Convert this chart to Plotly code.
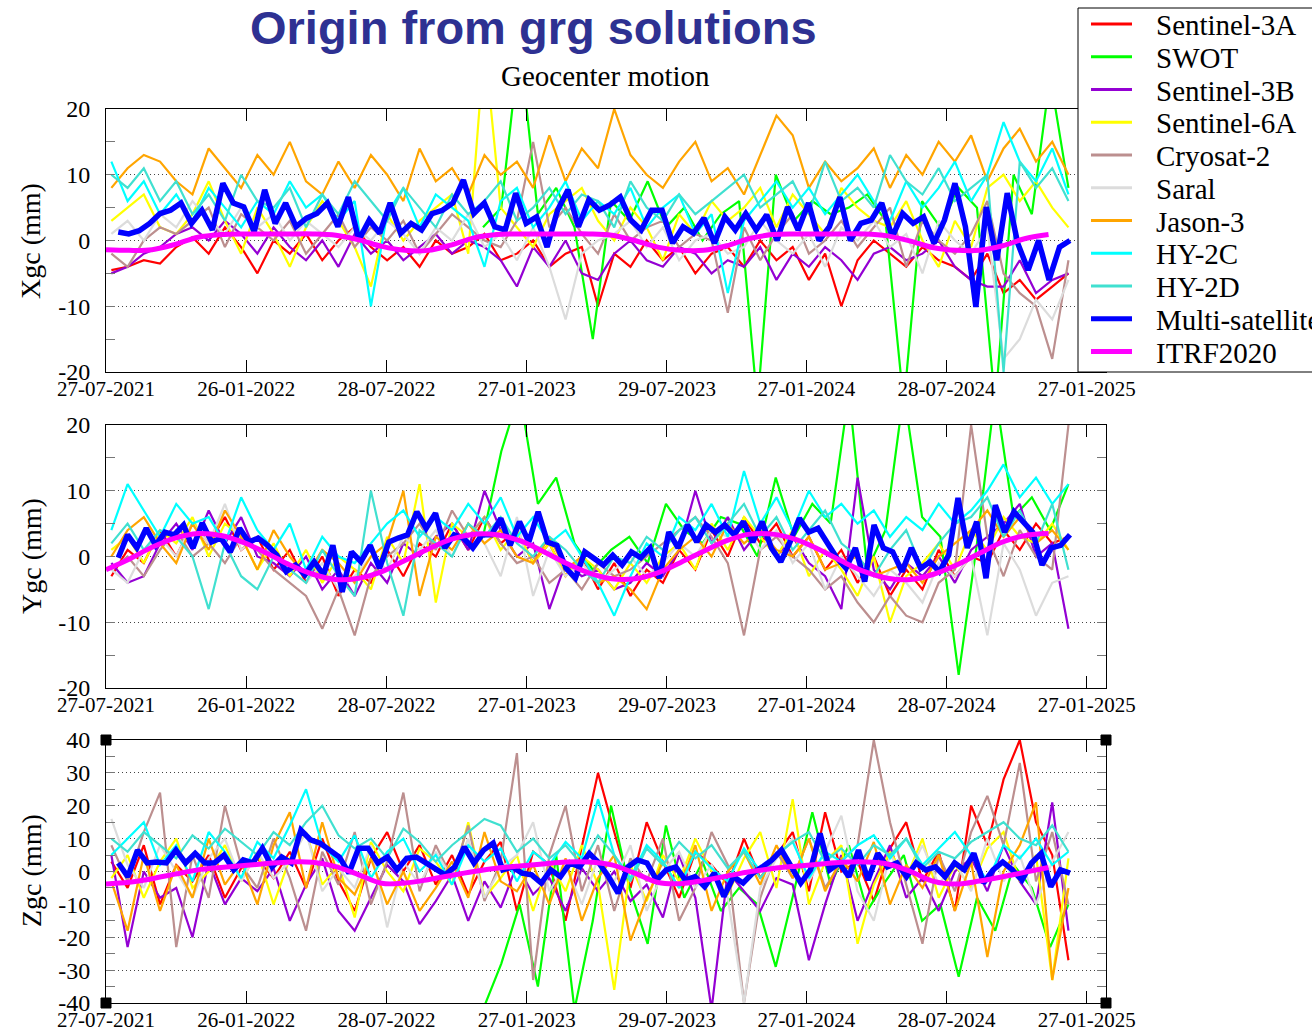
import pandas as pd
import plotly.graph_objects as go

W, H = 1312, 1032


def px_x(x):
    return x / W


def px_y(y):
    return 1 - y / H


# ---------------- data ----------------
series_names = ["Sentinel-3A", "SWOT", "Sentinel-3B", "Sentinel-6A", "Cryosat-2",
                "Saral", "Jason-3", "HY-2C", "HY-2D"]
series_colors = ["#ff0000", "#00ff00", "#9400d3", "#ffff00", "#bc8f8f",
                 "#dcdcdc", "#ffa500", "#00ffff", "#40e0d0"]
multi_name, multi_color = "Multi-satellite", "#0000ff"
itrf_name, itrf_color = "ITRF2020", "#ff00ff"

sat_start, sat_end = "2021-08-03", "2025-01-03"
swot_start = "2022-12-01"
multi_start, multi_end = "2021-08-12", "2025-01-05"
itrf_start = "2021-07-27"

tick_dates = ["2021-07-27", "2022-01-26", "2022-07-28", "2023-01-27",
              "2023-07-29", "2024-01-27", "2024-07-28", "2025-01-27"]
tick_labels = ["27-07-2021", "26-01-2022", "28-07-2022", "27-01-2023",
               "29-07-2023", "27-01-2024", "28-07-2024", "27-01-2025"]
x_range = ["2021-07-27", "2025-02-21"]

# ---- Xgc (mm)
s3a_x = [-4.5,-4,-3,-3.5,-1,0.5,-2,2,-1,-5, 0,-2,1,-3,0,2,-1,-3,-1,-4, 0,-2,-1,1,-3,-2,0,-4,-2,-1,
         -10,-2,-4,0,-3,-1,-5,-2,-1,-4, 0,-3,-1,-6,-2,-10,-3,0,-2,-4, -1,-3,-4,-6,-2,-8,-6,-9,-7,-5]
swot_x = [2,5,30,4,8,2,-15,6,3,9, 2,5,0,4,6,-25,10,3,6,4, 5,7,3,-25,6,2,8,5,-25,10, 4,25,8]
s3b_x = [-5,-4,-2,-1,1,2,0,3,1,-2, 2,-1,-3,0,-4,1,-2,0,-3,-1, 1,-2,0,-1,-3,-7,-1,-4,0,-5,
         -6,-2,0,-3,-4,-1,-2,-5,-3,-4, -1,-6,-2,-4,-1,-3,-6,-2,-1,-3, -2,0,-4,-6,-7,-7,-3,-8,-6,-5]
s6a_x = [3,5,7,2,1,4,9,3,-2,5, 1,-4,2,6,3,-1,-7,4,0,3, 5,7,-2,30,5,2,-1,4,6,8,
         3,0,5,2,-3,4,1,6,3,5, 8,2,7,4,1,8,5,3,2,6, 0,-4,3,-1,8,10,6,9,5,2]
cs2_x = [-2,-4,0,2,1,3,5,-1,4,2, 0,3,-2,1,4,-1,2,0,3,-2, 1,4,2,0,-1,3,15,2,5,1,
         -2,4,0,2,3,-1,1,0,-11,2, -3,1,4,-2,0,3,-1,2,5,-4, 3,0,-2,1,6,-5,-8,-10,-18,-3]
saral_x = [1,3,0,4,2,6,3,1,5,2, 4,0,3,1,-1,2,0,3,1,-2, 2,0,4,-1,1,-3,2,-4,-12,-2,
           0,1,3,-1,2,-3,0,1,-2,-1, 3,0,-2,1,-4,2,0,3,-1,1, -5,3,0,-2,2,-18,-15,-9,-12,-6]
j3_x = [8,11,13,12,9,7,14,11,8,13, 10,15,9,7,12,8,13,10,6,14, 9,11,7,13,10,12,8,16,9,14,
        11,20,13,10,8,12,15,9,11,7, 13,19,16,8,12,9,11,14,8,13, 10,15,12,16,9,14,17,12,15,10]
hy2c_x = [12,6,9,4,7,3,8,5,2,6, 4,9,5,7,3,6,-10,4,8,2, 7,5,3,-4,6,8,2,5,9,3,
          6,4,8,2,5,7,1,4,-8,3, 6,9,5,8,4,7,10,6,3,9, 5,8,12,6,10,18,12,9,14,7]
hy2d_x = [10,8,11,6,9,4,7,3,10,6, 5,8,2,7,4,9,6,3,8,5, 2,7,4,6,9,3,5,8,4,7,
          6,2,9,5,3,7,4,6,8,10, 5,7,9,4,12,6,8,5,13,9, 7,11,6,8,10,-20,12,8,11,6]
multi_x = [1.3,1.0,1.5,2.6,4.1,4.6,5.7,2.6,4.6,1.6,8.7,5.7,5.1,1.3,7.7,2.6,5.7,2.1,3.4,4.1,
           5.7,2.1,6.6,0.1,3.1,1.1,5.7,1.1,2.6,
           1.6,4.1,4.6,5.7,9.2,4.1,5.7,2.1,1.6,7.2,2.6,3.6,-1.0,4.6,7.7,2.1,6.2,4.6,5.4,6.6,
           3.1,1.6,4.6,4.6,-0.4,2.1,1.1,3.4,-0.4,3.6,
           1.6,4.1,1.6,3.9,0.0,5.1,1.6,5.7,0.0,2.1,6.6,0.0,2.6,3.1,5.7,0.5,4.1,2.6,3.6,-0.4,
           3.1,8.7,2.1,-10.1,5.1,-3.0,7.2,-0.4,-4.5,0.0,-6.0,-1.0,0.0]
itrf_x = [-1.4,-1.5,-1.4,-0.6,0.5,0.9,1.0,1.0,1.0,1.0,0.8,0.1,
          -0.9,-1.5,-1.5,-0.7,0.4,0.9,1.0,1.0,1.0,1.0,0.8,0.0,
          -1.0,-1.5,-1.5,-0.8,0.3,0.9,1.0,1.0,1.0,1.0,0.7,-0.1,
          -1.1,-1.5,-1.5,-0.8,0.3,0.9]

# ---- Ygc (mm)
s3a_y = [-3,1,-1,4,0,5,2,6,1,3, -2,1,-4,0,-6,-2,-4,1,-3,2, 0,5,1,6,2,4,-1,2,-3,0,
         -5,-1,-6,-2,-4,1,-2,4,0,6, 2,5,0,3,-2,1,-4,0,-6,-2, -5,1,-3,0,-1,4,1,5,2,3]
swot_y = [3,16,25,8,12,2,-2,1,3,-1, 8,4,2,6,5,0,12,3,8,5, 25,-2,4,25,6,3,-18,2,25,6, 9,4,11]
s3b_y = [-1,-4,-3,2,5,1,7,2,6,0, -1,-3,0,-5,-2,-6,-1,-4,2,0, 3,5,1,10,4,0,2,-8,-1,-3,
         -2,-5,-4,-1,-3,1,10,2,6,1, 4,0,3,-1,-3,-8,12,-2,-5,-1, -3,0,-4,1,3,5,8,0,2,-11]
s6a_y = [1,3,-1,4,2,6,0,5,3,-2, 2,-3,1,-4,0,-2,-5,3,-1,11, -7,5,3,6,1,4,-1,2,-3,0,
         -2,-5,-1,-4,0,2,-2,5,1,6, 3,0,4,-3,1,-2,-6,0,-10,-3, -1,2,-2,4,1,6,3,2,5,1]
cs2_y = [-2,0,-3,1,4,0,2,-1,3,1, -2,-4,-6,-11,-5,-12,-3,0,2,5, 1,7,3,6,2,-1,0,-4,-2,-5,
         -1,-3,-2,0,2,4,6,3,-1,-12, 1,3,0,-2,-5,-3,-7,-10,-6,-9, -10,-4,-2,20,3,-3,4,0,-2,20]
saral_y = [-2,-4,1,3,0,5,2,8,1,3, 0,-2,-4,-1,-5,-3,0,-2,3,1, 4,0,5,2,-3,6,-6,1,-3,-1,
           -4,-2,0,-3,-1,2,0,4,3,5, 1,4,-1,2,-5,0,-3,-6,-2,-4, -7,-1,-3,0,-12,2,-2,-9,-4,-3]
j3_y = [0,4,6,2,-1,5,1,7,3,-2, 4,0,-3,1,-1,-4,0,2,10,-6, 3,1,5,2,4,0,-1,3,-2,0,
        -4,-3,-5,-8,-2,1,3,0,5,2, 4,1,0,3,-2,-1,0,-3,-2,-1, -4,0,2,4,7,3,6,2,4,1]
hy2c_y = [4,11,7,3,8,5,6,2,9,4, 1,5,-2,3,0,-1,2,5,7,3, 6,4,8,5,9,3,6,2,4,0,
          -4,-9,-3,2,0,6,4,8,3,13, 5,9,4,10,6,8,5,7,3,6, 4,8,5,7,10,14,9,12,8,11]
hy2d_y = [2,5,1,4,3,0,-8,2,-3,-5, 0,-2,-4,1,-3,-6,10,-1,-9,4, 2,0,5,3,6,2,0,3,1,-2,
          -4,0,-1,3,1,4,6,2,5,8, 3,6,1,4,7,2,0,-3,1,4, -2,2,5,6,9,3,7,2,8,-2]
multi_y = [-0.2,3.3,1.3,4.3,1.7,3.7,3.3,4.8,1.3,5.1,2.2,2.8,0.7,4.3,2.2,2.8,1.7,0.2,-2.3,-1.3,
           -2.8,-0.8,-2.8,1.7,-5.4,0.7,-0.8,1.7,-1.8,2.2,2.8,3.3,6.8,
           4.3,6.6,1.3,3.3,2.8,1.3,3.3,3.3,5.8,1.7,5.3,2.2,6.8,2.2,1.7,-1.8,-3.3,0.7,-0.2,-1.3,
           0.2,-1.3,0.7,-0.2,1.3,-3.3,3.7,1.3,4.8,2.2,4.8,3.7,4.8,3.3,5.3,2.2,
           5.3,1.3,-0.8,2.2,5.8,3.7,4.3,2.2,-0.2,-1.8,1.3,-3.8,4.8,1.3,0.7,-2.3,1.3,-1.8,-0.8,
           -2.3,0.2,8.9,1.3,5.3,-3.3,7.8,3.7,6.8,5.3,3.7,-1.3,1.3,1.7,3.3]
itrf_y = [-2.0,-0.4,1.4,2.8,3.5,3.2,2.1,0.5,-1.3,-2.7,-3.5,-3.3,
          -2.3,-0.6,1.1,2.6,3.4,3.3,2.4,0.8,-1.0,-2.5,-3.4,-3.4,
          -2.5,-0.9,0.8,2.4,3.4,3.4,2.6,1.1,-0.7,-2.3,-3.3,-3.5,
          -2.7,-1.3,0.5,2.2,3.2,3.5]

# ---- Zgc (mm)
s3a_z = [3,-5,8,-10,2,-3,5,-8,1,4, -2,6,-5,10,-3,-12,4,12,0,8, -4,5,-7,3,9,-12,6,2,-15,8,
         30,12,-5,15,3,-8,6,2,-4,10, -2,5,12,-6,18,0,3,-9,7,15, -3,6,-12,20,8,28,40,15,5,-27]
swot_z = [-42,-28,-10,-35,5,-42,-15,20,-5,-22, 14,-8,3,-12,-5,-10,-29,-6,18,-4,
          8,-12,-3,5,-15,-10,-32,-8,-18,2, -5,-23,-10]
s3b_z = [5,-23,0,-8,-5,-20,3,-10,-2,-6, 1,-15,-4,4,-12,-18,-8,2,-3,-16, -9,-1,-15,-3,-11,2,-7,-2,-12,1,
         -6,0,-9,-4,-14,5,-8,-42,0,-6, -12,-2,-4,-27,-10,5,-15,-3,8,-8, -2,-12,0,4,-6,8,-3,-10,21,-18]
s6a_z = [-2,5,-8,3,10,-5,0,8,-3,6, -10,4,12,-4,2,-14,9,0,-6,7, 3,-4,15,-8,-2,5,-12,3,-6,8,
         -4,-36,2,-9,5,-3,10,0,-7,4, 12,-5,22,-10,3,8,-22,-4,6,-2, 10,-8,2,-5,7,12,-3,5,-33,4]
cs2_z = [8,-3,12,24,-23,5,-8,20,2,-5, 10,-2,-18,6,-4,12,-10,3,24,-6, 8,-2,14,-9,3,36,-33,5,20,-6,
         8,-12,4,-3,10,-15,-5,12,2,-40, -8,6,-2,10,-5,3,8,40,15,-4, -22,5,-6,12,23,8,33,-3,12,-10]
saral_z = [16,2,-5,8,0,-8,4,10,-3,6, -2,3,12,-6,1,-5,8,-17,3,-4, 6,-2,10,-8,1,5,15,-6,2,-10,
           4,-3,8,-12,0,6,-5,2,-8,-40, -5,4,10,-3,6,17,-6,-15,5,-2, 8,-4,3,-6,10,-3,5,-10,3,12]
j3_z = [-3,-18,5,-12,2,-8,10,-4,3,-10, 8,18,-5,15,-2,-7,4,-10,0,-12, -5,3,-8,12,-3,-6,2,-10,4,-15,
        -2,5,-21,-8,3,-5,8,-12,0,6, -4,8,-2,10,-6,4,-3,9,-10,2, -5,5,-12,3,-26,0,8,21,-33,-5]
hy2c_z = [5,10,15,2,8,-3,12,6,-2,9, 4,14,25,8,3,11,-2,6,10,0, 5,-4,8,3,7,-3,6,2,9,4,
          22,5,-2,8,3,-5,6,1,-3,7, 0,5,9,-2,6,3,8,11,4,10, 2,7,12,5,-3,8,4,10,2,6]
hy2d_z = [10,6,12,8,4,11,7,13,9,5, 12,8,15,20,11,7,10,4,13,9, 3,8,12,16,14,6,10,4,8,2,
          11,5,-3,7,2,9,4,8,1,6, -2,5,9,12,3,7,2,8,5,10, 1,6,4,9,12,15,10,8,14,6]
multi_z = [2.6,-1.6,6.5,2.6,2.9,2.6,6.5,2.6,5.5,2.6,2.6,5.0,0.5,3.5,2.6,7.1,1.4,4.4,2.6,12.6,
           9.6,8.6,6.5,4.4,-0.5,7.1,7.1,2.6,4.4,0.5,4.0,4.4,2.6,
           1.0,-1.0,1.4,7.5,2.6,6.5,8.6,0.5,1.4,-0.5,-1.0,-3.5,0.5,-1.6,2.6,1.4,5.5,2.6,-1.6,
           -6.6,1.4,3.5,2.6,-2.6,0.5,1.4,-2.6,-1.6,-4.6,-0.5,-7.6,-1.6,-3.5,-0.5,
           1.4,3.5,6.5,1.4,-3.5,0.5,11.6,0.5,2.6,-1.6,6.5,-2.6,5.5,1.4,2.6,-1.6,2.6,0.5,1.4,
           -1.6,2.6,0.5,5.5,-3.5,0.5,2.9,0.5,-2.6,2.6,5.5,-4.6,0.5,-0.5]
itrf_z = [-3.8,-3.3,-2.2,-0.8,0.5,1.2,1.8,2.4,2.9,2.8,1.5,-1.0,
          -3.6,-3.5,-2.5,-1.2,0.0,1.0,1.7,2.3,2.9,2.9,2.0,-0.5,
          -3.3,-3.7,-2.7,-1.4,-0.1,0.9,1.6,2.2,2.8,2.9,2.3,0.0,
          -3.0,-3.8,-2.9,-1.6,-0.2,1.2]

panel_titles = ["Xgc (mm)", "Ygc (mm)", "Zgc (mm)"]
panel_ranges = [[-20, 20], [-20, 20], [-40, 40]]
panel_ticks = [[-20, -10, 0, 10, 20], [-20, -10, 0, 10, 20],
               [-40, -30, -20, -10, 0, 10, 20, 30, 40]]
panel_tick_text = [["-20", "-10", "0", "10", "20"], ["-20", "-10", "0", "10", "20"],
                   ["-40", "-30", "-20", "-10", "0", "10", "20", "30", "40"]]

# ---------------- figure ----------------
SERIF = "Liberation Serif, Times New Roman, serif"
fig = go.Figure()

panels = [
    ("x", "y", [s3a_x, swot_x, s3b_x, s6a_x, cs2_x, saral_x, j3_x, hy2c_x, hy2d_x], multi_x, itrf_x),
    ("x2", "y2", [s3a_y, swot_y, s3b_y, s6a_y, cs2_y, saral_y, j3_y, hy2c_y, hy2d_y], multi_y, itrf_y),
    ("x3", "y3", [s3a_z, swot_z, s3b_z, s6a_z, cs2_z, saral_z, j3_z, hy2c_z, hy2d_z], multi_z, itrf_z),
]

for xa, ya, sats, multi, itrf in panels:
    for name, color, vals in zip(series_names, series_colors, sats):
        start = swot_start if name == "SWOT" else sat_start
        d = pd.date_range(start, sat_end, periods=len(vals))
        fig.add_trace(go.Scatter(x=d, y=vals, mode="lines", name=name,
                                 line=dict(color=color, width=2.2),
                                 xaxis=xa, yaxis=ya, showlegend=False))
    d = pd.date_range(multi_start, multi_end, periods=len(multi))
    fig.add_trace(go.Scatter(x=d, y=multi, mode="lines", name=multi_name,
                             line=dict(color=multi_color, width=5.5),
                             xaxis=xa, yaxis=ya, showlegend=False))
    d = pd.date_range(itrf_start, periods=len(itrf), freq="30D")
    fig.add_trace(go.Scatter(x=d, y=itrf, mode="lines", name=itrf_name,
                             line=dict(color=itrf_color, width=5, shape="spline"),
                             xaxis=xa, yaxis=ya, showlegend=False))

panel_px = [(109, 372), (425, 688), (740, 1003)]
layout = dict(
    width=W, height=H, autosize=False,
    margin=dict(l=0, r=0, t=0, b=0, pad=0, autoexpand=False),
    paper_bgcolor="white", plot_bgcolor="white", showlegend=False,
)
for i, ((top, bot), rng, tv, tt) in enumerate(zip(panel_px, panel_ranges, panel_ticks,
                                                   panel_tick_text)):
    sx = "" if i == 0 else str(i + 1)
    layout["xaxis" + sx] = dict(
        domain=[px_x(106), px_x(1106)], anchor="y" + sx, type="date",
        range=x_range, tickvals=tick_dates, ticktext=tick_labels,
        ticks="inside", ticklen=12, tickwidth=1, tickcolor="black",
        showline=True, linecolor="black", linewidth=1, mirror="ticks",
        showgrid=False, zeroline=False, automargin=False, ticklabelstandoff=-2,
        tickfont=dict(family=SERIF, size=21, color="black"),
    )
    layout["yaxis" + sx] = dict(
        domain=[px_y(bot), px_y(top)], anchor="x" + sx, range=rng,
        tickvals=tv, ticktext=tt, ticks="inside", ticklen=0, tickcolor="black",
        showline=True, linecolor="black", linewidth=1,
        mirror="ticks", showgrid=True, gridcolor="#444", gridwidth=1, griddash="1px,3px",
        zeroline=False, ticklabelstandoff=10, automargin=False,
        tickfont=dict(family=SERIF, size=24, color="black"),
        minor=dict(dtick=5, tick0=0, ticks="inside", ticklen=9, tickcolor="#777",
                   tickwidth=1, showgrid=False),
    )
fig.update_layout(**layout)

annotations = [
    dict(text="<b>Origin from grg solutions</b>", x=px_x(533), y=px_y(27),
         font=dict(family="Liberation Sans, Arial, sans-serif", size=47, color="#2e3192")),
    dict(text="Geocenter motion", x=px_x(605), y=px_y(76),
         font=dict(family=SERIF, size=29, color="black")),
]
for t, yc in zip(panel_titles, [241, 556, 871]):
    annotations.append(dict(text=t, x=px_x(31), y=px_y(yc), textangle=-90,
                            font=dict(family=SERIF, size=28, color="black")))

shapes = []
# legend box (covers right part of the first panel)
shapes.append(dict(type="rect", xref="paper", yref="paper", layer="above",
                   x0=px_x(1078), x1=px_x(1330), y0=px_y(372), y1=px_y(8),
                   line=dict(color="black", width=1), fillcolor="white"))
leg_names = series_names + [multi_name, itrf_name]
leg_colors = series_colors + [multi_color, itrf_color]
for k, (nm, col) in enumerate(zip(leg_names, leg_colors)):
    yc = 24 + k * 32.75
    shapes.append(dict(type="line", xref="paper", yref="paper", layer="above",
                       x0=px_x(1091), x1=px_x(1132), y0=px_y(yc), y1=px_y(yc),
                       line=dict(color=col, width=5 if k >= 9 else 3)))
    annotations.append(dict(text=nm, x=px_x(1154), y=px_y(yc + 1), xanchor="left",
                            font=dict(family=SERIF, size=29, color="black")))
# corner handles on the third panel
for cx in (106, 1106):
    for cy in (740, 1003):
        shapes.append(dict(type="rect", xref="paper", yref="paper", layer="above",
                           x0=px_x(cx - 5), x1=px_x(cx + 5), y0=px_y(cy + 5), y1=px_y(cy - 5),
                           line=dict(color="black", width=1), fillcolor="black"))

for a in annotations:
    a.setdefault("xref", "paper")
    a.setdefault("yref", "paper")
    a.setdefault("showarrow", False)
    a.setdefault("xanchor", "center")
    a.setdefault("yanchor", "middle")
fig.update_layout(annotations=annotations, shapes=shapes)

fig.write_html("out.html")
